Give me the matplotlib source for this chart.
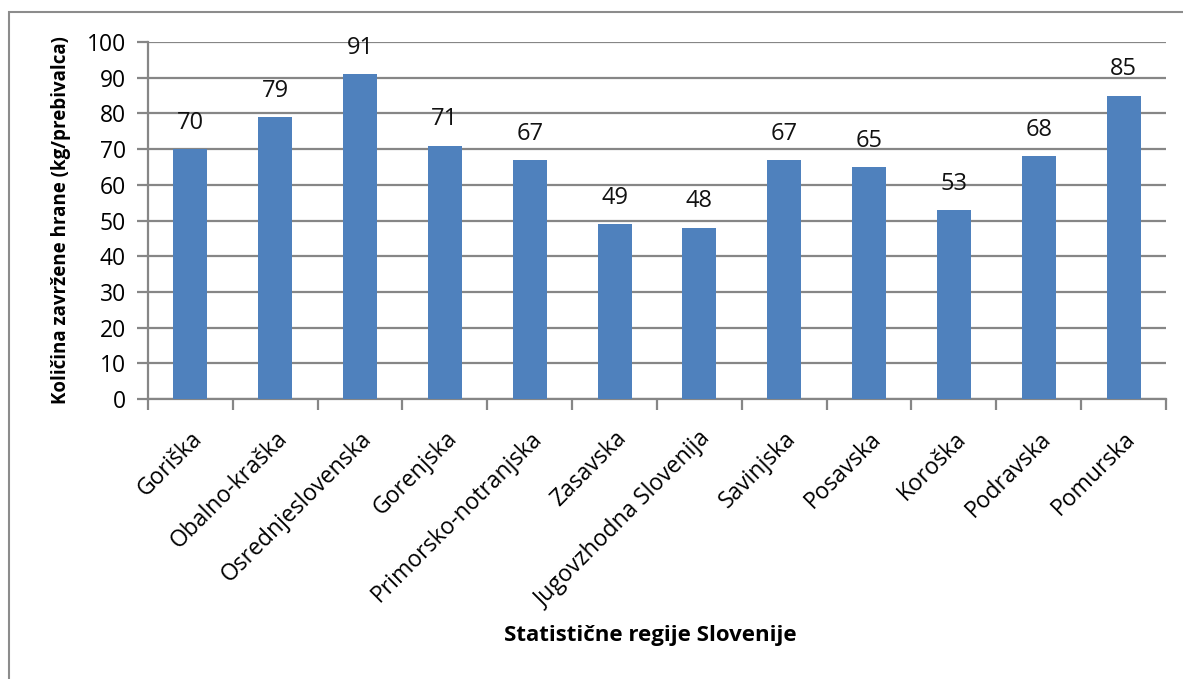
import matplotlib.pyplot as plt
import numpy as np
from matplotlib.patches import Rectangle

regije = ["Goriška", "Obalno-kraška", "Osrednjeslovenska", "Gorenjska",
          "Primorsko-notranjska", "Zasavska", "Jugovzhodna Slovenija",
          "Savinjska", "Posavska", "Koroška", "Podravska", "Pomurska"]
kolicina = [70, 79, 91, 71, 67, 49, 48, 67, 65, 53, 68, 85]

plt.rcParams['font.family'] = ['Open Sans', 'DejaVu Sans']

fig = plt.figure(figsize=(11.83, 6.79), dpi=100)
ax = fig.add_axes([0.1251, 0.4124, 0.8605, 0.5257])

# okvir okoli grafa (desno in spodaj odrezan)
fig.patches.append(Rectangle((9 / 1183, -0.05), 1.2, (679 - 12) / 679 + 0.05,
                             transform=fig.transFigure, fill=False,
                             edgecolor="#8c8c8c", linewidth=1.5))

x = np.arange(len(regije))
ax.bar(x, kolicina, width=0.4, color="#4F81BD", zorder=3)
for xi, v in zip(x, kolicina):
    ax.text(xi, v + 4, str(v), ha="center", va="bottom", fontsize=17, color="#111111")

ax.set_xlim(-0.5, len(regije) - 0.5)
ax.set_ylim(0, 100)
ax.set_yticks(np.arange(0, 101, 10))
ax.yaxis.grid(True, color="#868686", linewidth=1.6, zorder=0)
ax.tick_params(axis="y", length=8, width=1.6, color="#868686", labelsize=16.5, pad=8)

ax.set_xticks(np.arange(-0.5, len(regije), 1))
ax.set_xticklabels([])
ax.set_xticks(x, minor=True)
ax.set_xticklabels(regije, minor=True, rotation=45, ha="right",
                   rotation_mode="anchor", fontsize=16.5)
ax.tick_params(axis="x", which="major", length=8, width=1.6, color="#868686")
ax.tick_params(axis="x", which="minor", length=0, pad=20)

for s in ["top", "right"]:
    ax.spines[s].set_visible(False)
for s in ["left", "bottom"]:
    ax.spines[s].set_color("#868686")
    ax.spines[s].set_linewidth(1.6)

ax.set_ylabel("Količina zavržene hrane (kg/prebivalca)", fontsize=13.5, fontweight="bold")
ax.yaxis.set_label_coords(-0.076, 0.5)
fig.text(0.5495, 1 - 635 / 679, "Statistične regije Slovenije", ha="center", va="center",
         fontsize=16, fontweight="bold")

fig.savefig("out.png", dpi=100)
